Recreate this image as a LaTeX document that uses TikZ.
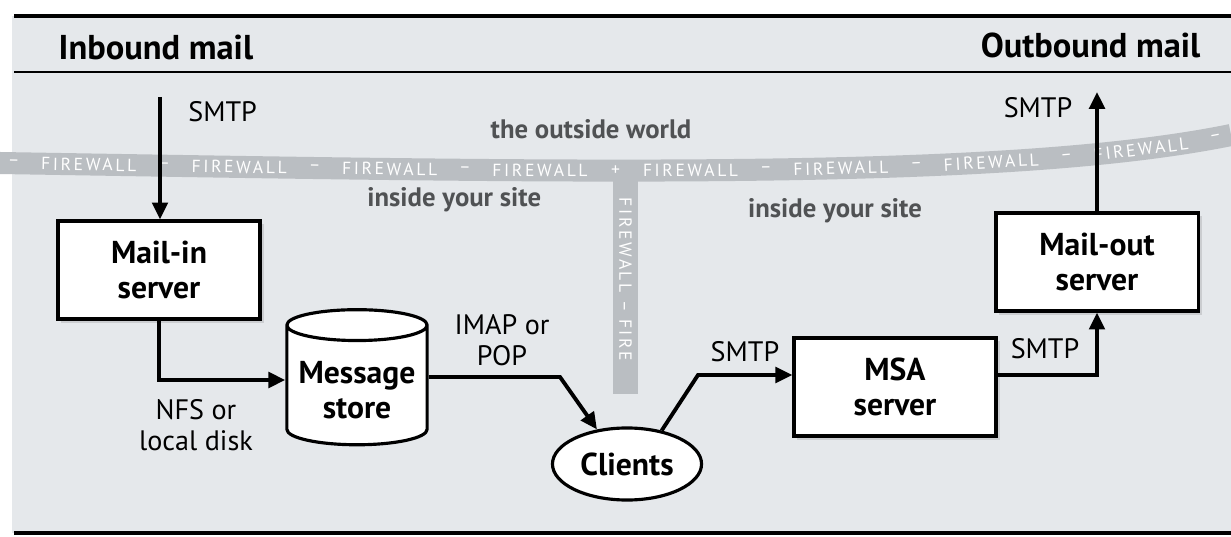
\documentclass[tikz,border=0pt]{standalone}
\usepackage{fontspec}
\setmainfont{PT Sans}
\newfontfamily\wallfont[LetterSpace=15]{PT Sans}
\usetikzlibrary{arrows.meta,calc,shapes.geometric,decorations.markings,shadows}
\definecolor{paper}{RGB}{229,232,235}
\definecolor{wallgray}{RGB}{186,190,194}
\definecolor{sitegray}{RGB}{80,82,84}

\begin{document}
\begin{tikzpicture}[x=0.01cm, y=-0.01cm,
  server/.style={draw, line width=0.9pt, fill=white, minimum width=2.02cm, minimum height=0.98cm, align=center, font=\fontsize{9}{9.8}\selectfont\bfseries, drop shadow={shadow xshift=1pt, shadow yshift=-1pt, opacity=0.25}},
  flow/.style={line width=1.1pt, -{Triangle[length=4.8pt,width=4.4pt]}},
  lbl/.style={font=\fontsize{8}{8.8}\selectfont, align=center},
  site/.style={text=sitegray, font=\fontsize{7.6}{8}\selectfont\bfseries},
  wall text/.style={text=white, inner sep=0pt, font=\wallfont\fontsize{5}{5}\selectfont}]

% Page
\fill[white] (0,0) rectangle (1231,537);
\fill[paper] (12,16) rectangle (1231,533);
\useasboundingbox (0,0) rectangle (1231,537);
\draw[line width=1.3pt] (14,16) -- (1231,16);
\draw[line width=0.6pt] (14,72) -- (1231,72);
\draw[line width=1.3pt] (14,533) -- (1231,533);

% Firewall
\draw[wallgray, line width=0.22cm] (0,163) .. controls (550,172) and (1000,182) .. (1231,135);
\fill[wallgray] (613,170) rectangle (638,394);
\path[decoration={markings,
    mark=between positions 0.072 and 0.95 step 0.122 with {\node[wall text, transform shape] (fwword) {FIREWALL};},
    mark=between positions 0.011 and 0.38 step 0.122 with {\node[wall text, transform shape] (fwdash) {–};},
    mark=at position 0.499 with {\node[wall text, transform shape] (fwplus) {+};},
    mark=between positions 0.621 and 0.99 step 0.122 with {\node[wall text, transform shape] (fwdash) {–};}},
  decorate] (0,163) .. controls (550,172) and (1000,182) .. (1231,135);
\node[wall text, rotate=-90, anchor=west] (wallv) at (625.5,197) {FIREWALL – FIRE};

% Headings
\node[anchor=base west, inner sep=0pt, font=\fontsize{9.8}{10}\selectfont\bfseries] (inbound) at (58,60) {Inbound mail};
\node[anchor=base east, inner sep=0pt, font=\fontsize{9.8}{10}\selectfont\bfseries] (outbound) at (1201,58) {Outbound mail};
\node[site] (outside) at (591,129) {the outside world};
\node[site, anchor=west] (insideL) at (355,200) {inside your site};
\node[site] (insideR) at (835,211) {inside your site};

% Servers
\node[server] (mailin) at (159,270) {Mail-in\\server};
\node[cylinder, shape border rotate=90, aspect=0.22, draw, line width=0.9pt, fill=white, minimum width=1.35cm, minimum height=1.35cm, align=center, font=\fontsize{9}{9.8}\selectfont\bfseries] (store) at (357,390) {Message\\store};
\node[ellipse, draw, line width=0.9pt, fill=white, inner sep=1pt, minimum width=1.49cm, minimum height=0.72cm, font=\fontsize{9}{9.8}\selectfont\bfseries] (clients) at (627,464) {Clients};
\node[server] (msa) at (895,387) {MSA\\server};
\node[server] (mailout) at (1097,262) {Mail-out\\server};

% Mail flow
\coordinate (inTop) at (160,97);
\coordinate (outTop) at (1097,92);
\coordinate (imapBend) at (560,377);
\coordinate (smtpBend) at (698,375);
\draw[flow] (inTop) -- (inTop |- mailin.north);
\node[lbl, anchor=west] (smtpIn) at (176,112) {SMTP};
\draw[flow] (mailin.south) |- ($(store.180)+(0,-10)$);
\node[lbl] (nfs) at (196,425) {NFS or\\local disk};
\draw[flow] ($(store.0)+(0,-13)$) -- (imapBend) -- (clients.131);
\node[lbl] (imap) at (502,340) {IMAP or\\POP};
\draw[flow] (clients.44) -- (smtpBend) -- ($(msa.west)+(0,-12)$);
\node[lbl] (smtpMsa) at (745,352) {SMTP};
\draw[flow] ($(msa.east)+(0,-12)$) -| (mailout.south);
\node[lbl] (smtpOut) at (1045,349) {SMTP};
\draw[flow] (mailout.north) -- (outTop);
\node[lbl] (smtpTop) at (1038,108) {SMTP};
\end{tikzpicture}
\end{document}
